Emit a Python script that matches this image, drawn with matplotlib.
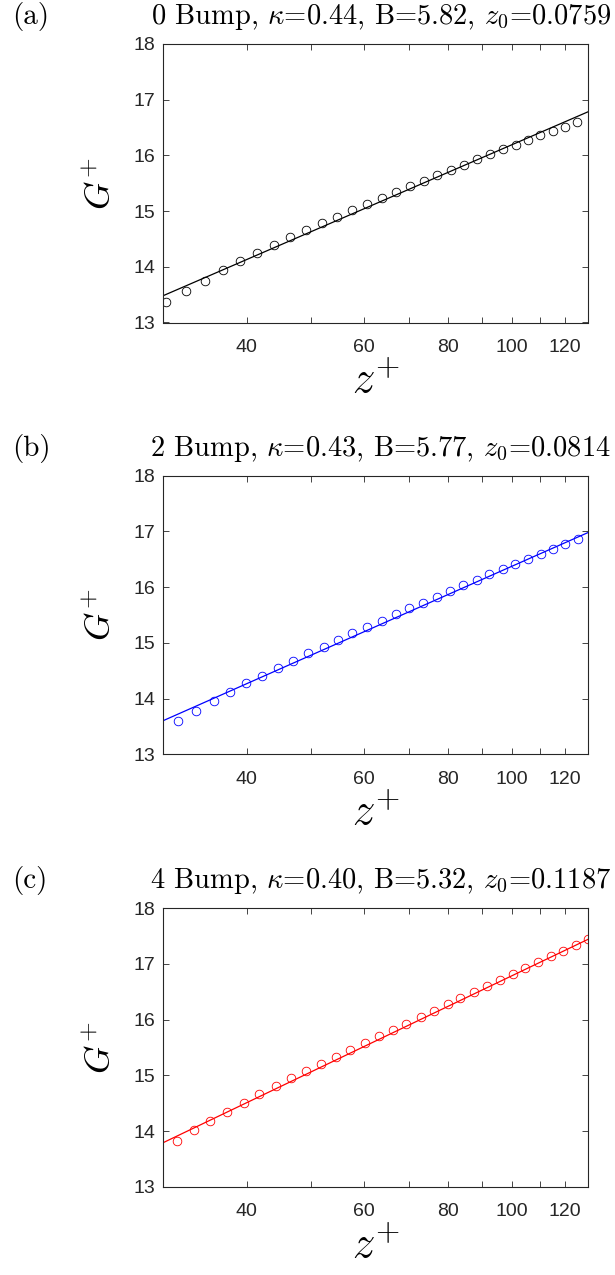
import numpy as np
import matplotlib
matplotlib.use("Agg")
import matplotlib.pyplot as plt
from matplotlib.ticker import FixedLocator, NullFormatter, FixedFormatter

plt.rcParams["mathtext.fontset"] = "cm"
plt.rcParams["font.family"] = ["Liberation Sans", "DejaVu Sans"]

# ---- data -------------------------------------------------------------
z_a = [30.3, 32.4, 34.6, 36.8, 39.1, 41.5, 43.9, 46.5, 49.1, 51.8, 54.7, 57.6,
       60.6, 63.8, 66.9, 70.2, 73.7, 77.2, 81.0, 84.7, 88.6, 92.7, 96.9, 101.3,
       105.7, 110.2, 115.0, 120.0, 125.2]
g_a = [13.37, 13.57, 13.75, 13.94, 14.10, 14.25, 14.39, 14.53, 14.66, 14.78,
       14.90, 15.02, 15.13, 15.24, 15.34, 15.45, 15.54, 15.64, 15.74, 15.83,
       15.93, 16.02, 16.11, 16.19, 16.28, 16.36, 16.44, 16.51, 16.60]

z_b = [31.6, 33.6, 35.7, 37.7, 39.9, 42.2, 44.5, 47.0, 49.5, 52.2, 54.9, 57.6,
       60.6, 63.7, 66.9, 70.1, 73.6, 77.0, 80.6, 84.4, 88.4, 92.4, 96.8, 101.1,
       105.6, 110.3, 115.1, 120.1, 125.4]
g_b = [13.60, 13.78, 13.95, 14.12, 14.27, 14.41, 14.55, 14.68, 14.81, 14.93,
       15.05, 15.17, 15.29, 15.40, 15.51, 15.62, 15.72, 15.83, 15.93, 16.03,
       16.13, 16.23, 16.32, 16.42, 16.51, 16.60, 16.69, 16.77, 16.86]

z_c = [31.4, 33.3, 35.3, 37.4, 39.6, 41.8, 44.2, 46.6, 49.1, 51.7, 54.4, 57.2,
       60.1, 63.1, 66.3, 69.4, 72.9, 76.3, 80.0, 83.6, 87.6, 91.6, 95.8, 100.2,
       104.6, 109.3, 114.2, 119.2, 124.5, 129.9]
g_c = [13.83, 14.02, 14.19, 14.35, 14.51, 14.66, 14.81, 14.95, 15.08, 15.21,
       15.33, 15.46, 15.58, 15.70, 15.82, 15.93, 16.05, 16.16, 16.28, 16.39,
       16.50, 16.61, 16.72, 16.82, 16.93, 17.04, 17.14, 17.24, 17.35, 17.44]

case_names = ["0 Bump", "2 Bump", "4 Bump"]
# log-law fit parameters, G+ = ln(z+)/kappa + B
kappa = [0.4440, 0.4340, 0.4015]
B = [5.822, 5.766, 5.322]
z0 = ["0.0759", "0.0814", "0.1187"]
panel_tags = ["(a)", "(b)", "(c)"]
colors = ["#000000", "#0000ff", "#ff0000"]

xlim = (30, 130)
ylim = (13, 18)
major_x = [40, 60, 80, 100, 120]
minor_x = [50, 70, 90, 110]
y_ticks = [13, 14, 15, 16, 17, 18]

# ---- figure -------------------------------------------------------------
fig = plt.figure(figsize=(6.15, 12.75), dpi=100)
W, H = 615.0, 1275.0
ax_left, ax_right = 163.3, 588.3
ax_tops = [44.0, 475.7, 908.3]
ax_h = 278.5
axis_gray = "#262626"

datasets = [(z_a, g_a), (z_b, g_b), (z_c, g_c)]

for i, (zz, gg) in enumerate(datasets):
    top = ax_tops[i]
    ax = fig.add_axes([ax_left / W, 1 - (top + ax_h) / H,
                       (ax_right - ax_left) / W, ax_h / H])
    ax.set_xscale("log")
    ax.set_xlim(*xlim)
    ax.set_ylim(*ylim)

    # log-law fit line across the axis range
    zf = np.geomspace(xlim[0], xlim[1], 200)
    ax.plot(zf, np.log(zf) / kappa[i] + B[i], color=colors[i], lw=0.9)
    ax.plot(zz, gg, linestyle="none", marker="o", ms=6.2, mfc="none",
            mec=colors[i], mew=0.6)

    ax.xaxis.set_major_locator(FixedLocator(major_x))
    ax.xaxis.set_major_formatter(FixedFormatter([str(v) for v in major_x]))
    ax.xaxis.set_minor_locator(FixedLocator(minor_x))
    ax.xaxis.set_minor_formatter(NullFormatter())
    ax.set_yticks(y_ticks)
    ax.tick_params(which="both", direction="in", top=True, right=True,
                   length=4, width=0.6, color=axis_gray,
                   labelsize=14, labelcolor=axis_gray, pad=6)
    ax.tick_params(axis="x", pad=12)
    for sp in ax.spines.values():
        sp.set_linewidth(0.8)
        sp.set_color(axis_gray)

    ax.set_xlabel(r"$z^{+}$", fontsize=32, color="black")
    ax.xaxis.set_label_coords(0.5, -0.14)
    ax.set_ylabel(r"$G^{+}$", fontsize=26, color="black")
    ax.yaxis.set_label_coords(-0.105, 0.5)

    title = (r"%s, $\kappa$=%.2f, B=%.2f, $z_0$=%s"
             % (case_names[i], kappa[i], B[i], z0[i]))
    fig.text(611 / W, 1 - (top - 20) / H, title,
             ha="right", va="baseline", fontsize=20.5, family="cmr10")
    fig.text(12 / W, 1 - (top - 20) / H, panel_tags[i],
             ha="left", va="baseline", fontsize=21, family="cmr10")

fig.savefig("out.png", dpi=100)
